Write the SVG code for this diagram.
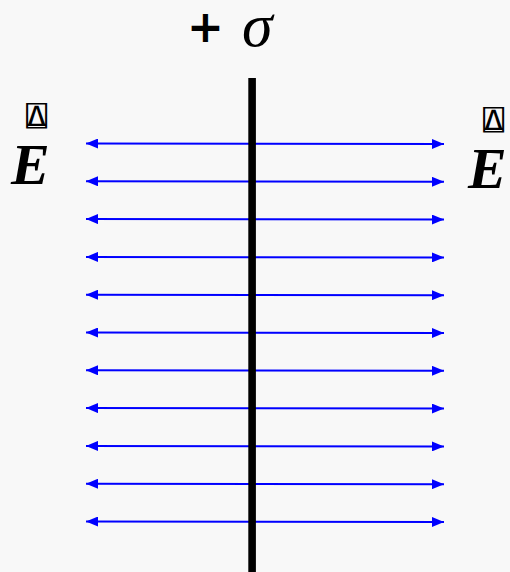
<svg xmlns="http://www.w3.org/2000/svg" width="510" height="572" viewBox="0 0 510 572">
<style>
.bg{fill:#f8f8f8}
.fl{stroke:#0000ff;stroke-width:2;fill:none;marker-start:url(#ah);marker-end:url(#ah)}
.E{font-family:"Liberation Serif",serif;font-weight:bold;font-style:italic;font-size:58px;fill:#000}
.vec{font-family:"DejaVu Sans Mono",monospace;font-size:22px;fill:#000}
.sig{font-family:"Liberation Serif",serif;font-size:62px;font-style:italic;fill:#000}
.plus{font-family:"DejaVu Sans",sans-serif;font-weight:bold;font-size:44px;fill:#000}
</style>
<defs>
<marker id="ah" viewBox="0 0 12 10" refX="12" refY="5" markerWidth="12" markerHeight="10" markerUnits="userSpaceOnUse" orient="auto-start-reverse">
<path d="M0,0 L12,5 L0,10 Z" fill="#0000ff"/>
</marker>
</defs>
<rect class="bg" x="0" y="0" width="510" height="572"/>
<g id="field-lines">
<line class="fl" x1="86" y1="143.5" x2="444" y2="144"/>
<line class="fl" x1="86" y1="181.3" x2="444" y2="181.8"/>
<line class="fl" x1="86" y1="219.1" x2="444" y2="219.6"/>
<line class="fl" x1="86" y1="256.9" x2="444" y2="257.4"/>
<line class="fl" x1="86" y1="294.7" x2="444" y2="295.2"/>
<line class="fl" x1="86" y1="332.5" x2="444" y2="333"/>
<line class="fl" x1="86" y1="370.3" x2="444" y2="370.8"/>
<line class="fl" x1="86" y1="408.1" x2="444" y2="408.6"/>
<line class="fl" x1="86" y1="445.9" x2="444" y2="446.4"/>
<line class="fl" x1="86" y1="483.7" x2="444" y2="484.2"/>
<line class="fl" x1="86" y1="521.5" x2="444" y2="522"/>
</g>
<g id="sheet">
<rect x="248.3" y="78" width="7.6" height="494" fill="#000"/>
</g>
<g id="sigma-label">
<text class="plus" x="187" y="42">+</text>
<text class="sig" x="242" y="46">σ</text>
</g>
<g id="E-left">
<text class="vec" transform="translate(26,126) scale(1.6,1.25)">⍍</text>
<text class="E" x="11" y="184">E</text>
</g>
<g id="E-right">
<text class="vec" transform="translate(483,130) scale(1.6,1.25)">⍍</text>
<text class="E" x="468" y="188">E</text>
</g>
</svg>
